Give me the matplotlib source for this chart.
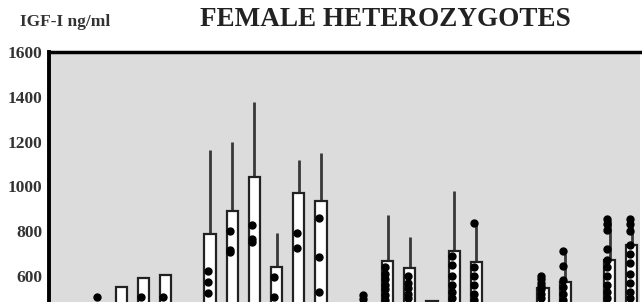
import numpy as np
import matplotlib.pyplot as plt

# slot of each bar along the x axis
slots = [2, 3, 4, 5, 7, 8, 9, 10, 11, 12, 14, 15, 16, 17, 18, 19, 22, 23, 25, 26]
# mean IGF-I (bar tops)
means = [470, 550, 590, 604, 787, 890, 1042, 640, 971, 935,
         460, 667, 636, 488, 712, 663, 546, 573, 671, 738]
# top of the SD whisker (nan = none visible)
sd_top = [np.nan, np.nan, np.nan, np.nan, 1163, 1198, 1377, 792, 1118, 1149,
          np.nan, 872, 774, np.nan, 980, 837, 590, 700, 850, 855]
# individual values
points = [
    [506], [], [506], [506],
    [622, 573, 524], [801, 707, 715], [828, 752, 765], [596, 506],
    [792, 725], [859, 685, 529],
    [515, 497], [640, 610, 585, 560, 540, 515, 495], [600, 570, 545, 520, 500], [],
    [690, 650, 600, 560, 530, 500], [837, 640, 600, 560, 520, 495],
    [600, 585, 570, 555, 540, 520, 500], [712, 645, 580, 550, 520, 495],
    [855, 830, 805, 720, 671, 640, 600, 560, 530, 500],
    [855, 830, 800, 738, 700, 660, 610, 570, 530, 500],
]

plt.rcParams['font.family'] = ['Liberation Serif', 'DejaVu Serif']

fig = plt.figure(figsize=(6.42, 3.02), dpi=100)
# axes runs past the bottom of the picture (the original is cropped)
ax = fig.add_axes([49/642, 1 - 52/302 - 358.4/302, 591/642, 358.4/302])
ax.set_facecolor('#dcdcdc')

for s, m, top in zip(slots, means, sd_top):
    if not np.isnan(top):
        ax.plot([s, s], [m, top], color='#383838', lw=2, zorder=1, solid_capstyle='butt')
ax.bar(slots, means, width=0.5, color='white', edgecolor='#222222', linewidth=1.6, zorder=2)

for s, vals in zip(slots, points):
    if vals:
        ax.plot([s - 0.1] * len(vals), vals, 'o', color='black', ms=5, zorder=3)

ax.set_xlim(-0.25, 26.37)
ax.set_ylim(0, 1600)
ax.set_yticks([600, 800, 1000, 1200, 1400, 1600])
ax.set_yticklabels(['600', '800', '1000', '1200', '1400', '1600'],
                   fontsize=12.5, fontweight='bold', color='#333333')
ax.tick_params(axis='y', length=0, pad=5)
ax.set_xticks([])

ax.spines['right'].set_visible(False)
ax.spines['bottom'].set_visible(False)
ax.spines['left'].set_linewidth(2.8)
ax.spines['top'].set_linewidth(2.5)
ax.spines['top'].set_bounds(-0.25, 27)

fig.text(385/642, 1 - 20/302, 'FEMALE HETEROZYGOTES', ha='center', va='center',
         fontsize=19.5, fontweight='bold', color='#222222')
fig.text(20/642, 1 - 22/302, 'IGF-I ng/ml', ha='left', va='center',
         fontsize=12.5, fontweight='bold', color='#333333')

fig.savefig('out.png', dpi=100)
